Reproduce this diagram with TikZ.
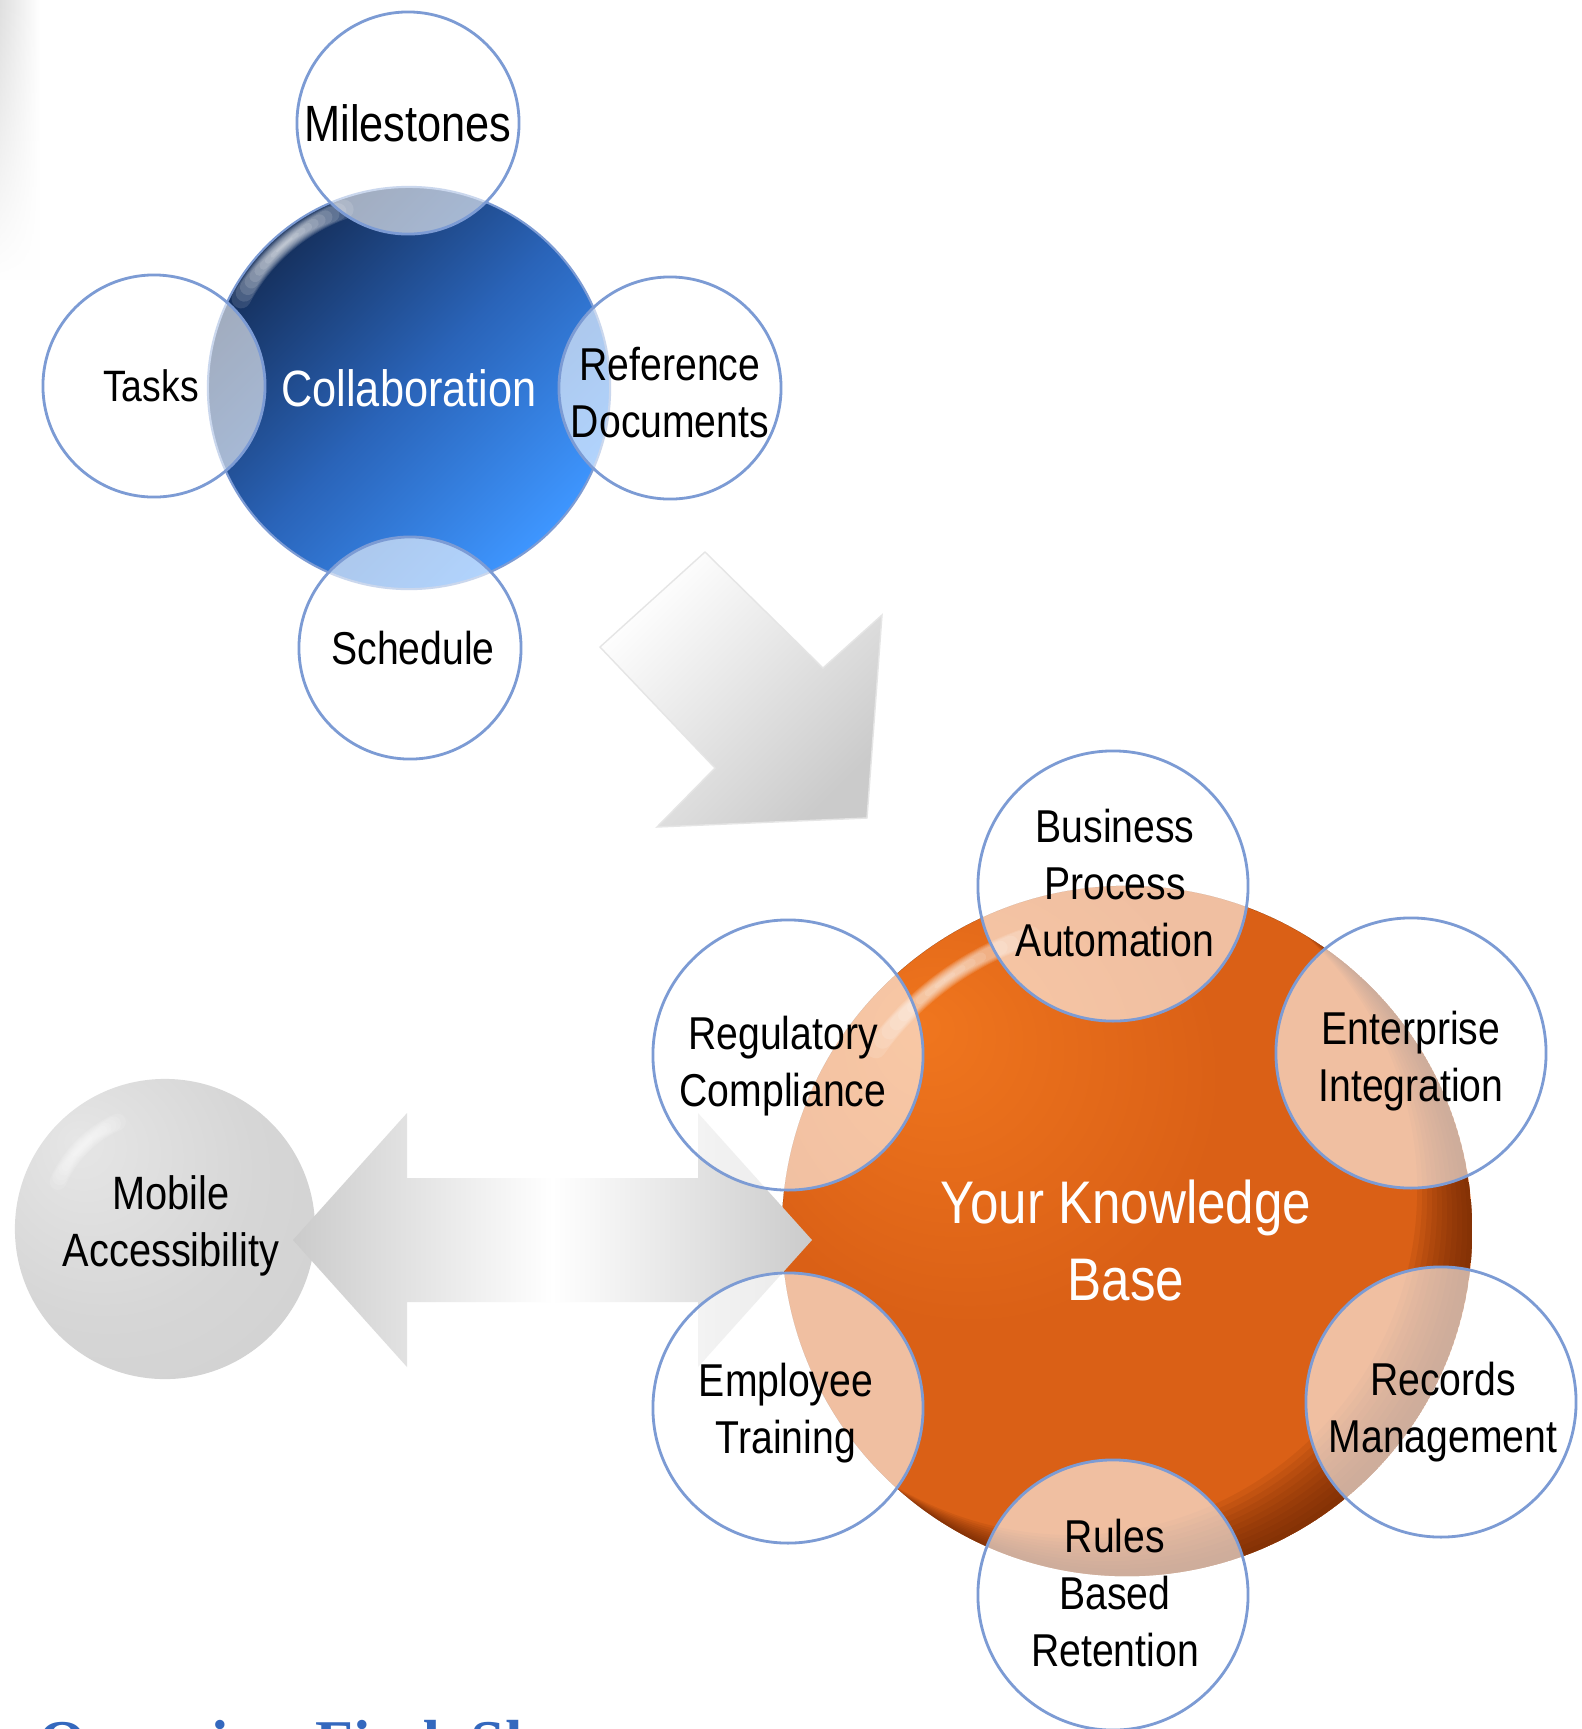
\documentclass[tikz,border=0pt]{standalone}
\usepackage{fontspec}
\setmainfont{Liberation Sans}[FakeStretch=0.85]
\newfontfamily\headfont{Liberation Serif}
\usetikzlibrary{fadings}

\definecolor{satline}{RGB}{124,155,212}
\definecolor{navyblue}{RGB}{20,45,88}
\definecolor{midblue}{RGB}{42,100,185}
\definecolor{brightblue}{RGB}{62,150,255}
\definecolor{orlight}{RGB}{240,118,30}
\definecolor{ormain}{RGB}{218,96,22}
\definecolor{orrim}{RGB}{105,36,3}
\definecolor{mobA}{RGB}{230,230,230}
\definecolor{mobB}{RGB}{214,214,214}
\definecolor{mobC}{RGB}{205,205,205}
\definecolor{arrowgray}{RGB}{203,203,203}
\definecolor{headblue}{RGB}{52,104,190}

\pgfdeclareradialshading{kbball}{\pgfpoint{-15bp}{15bp}}{color(0bp)=(orlight); color(18bp)=(ormain); color(70bp)=(ormain)}
\pgfdeclareradialshading{mobileball}{\pgfpoint{-15bp}{15bp}}{color(0bp)=(mobA); color(25bp)=(mobB); color(55bp)=(mobC); color(70bp)=(mobC)}

\newcommand\satfont{\fontsize{13.1}{16.2}\selectfont}
\newcommand\bigsatfont{\fontsize{14.5}{17}\selectfont}

\tikzset{
  sat/.style={circle, draw=satline, line width=0.8pt, fill=white, fill opacity=0.6,
    inner sep=0pt, minimum size=#1},
  sat/.default=2.22cm,
  txt/.style={align=center, inner sep=0pt, font=\satfont},
  gloss/.style={white, draw opacity=0.12, line cap=round}
}

\begin{document}
\begin{tikzpicture}[x=0.01cm, y=-0.01cm]
  \useasboundingbox (0,0) rectangle (1582,1729);
  \clip (0,0) rectangle (1582,1729);
  \fill[white] (0,0) rectangle (1582,1729);
  \shade[left color=gray!25, right color=white, path fading=south] (0,0) rectangle (40,280);

  % collaboration
  \node[circle, minimum size=4.02cm, top color=navyblue, bottom color=brightblue,
    middle color=midblue, shading angle=45, draw=satline, line width=0.6pt,
    text=white, font=\bigsatfont] (collab) at (409,388) {Collaboration};
  \foreach \i in {1,...,10}
    \draw[gloss, line width=(11-\i)*0.55pt] (collab.center) ++(108+\i*2:1.9cm)
      arc[start angle=108+\i*2, end angle=154-\i*2, radius=1.9cm];
  \node[sat] (milestones) at (408,123) {};
  \node[txt, font=\bigsatfont] (milestones-t) at (408,123) {Milestones};
  \node[sat] (tasks) at (154,386) {};
  \node[txt, font=\fontsize{12.5}{15}\selectfont] (tasks-t) at (151,386) {Tasks};
  \node[sat] (refdocs) at (670,388) {};
  \node[txt] (refdocs-t) at (670,393) {Reference\\Documents};
  \node[sat] (schedule) at (410,648) {};
  \node[txt] (schedule-t) at (413,648) {Schedule};

  % arrow down to the knowledge base
  \shade[top color=white, bottom color=arrowgray, shading angle=45, draw=gray!20, line width=0.4pt]
    (705,552) -- (823,668) -- (882,615) -- (867,818) -- (657,827) -- (715,768) -- (600,647) -- cycle;

  % knowledge base
  \node[circle, minimum size=6.9cm, inner sep=0pt, shade, shading=kbball] (kb) at (1127,1231) {};
  \begin{scope}
    \clip (kb.center) circle[radius=3.45cm];
    \foreach \d [evaluate=\d as \e using 0.75*\d] in {0.05,0.1,...,0.56}
      \fill[orrim, fill opacity=0.11, even odd rule] (kb.center) circle[radius=3.45cm]
        ([shift={(-\d cm,\e cm)}]kb.center) circle[radius=3.45cm];
  \end{scope}
  \node[txt, text=white, font=\fontsize{17.1}{21.9}\selectfont] (kb-t) at (1126,1240) {Your Knowledge\\Base};
  \foreach \i in {1,...,10}
    \draw[gloss, line width=(11-\i)*0.55pt] (kb.center) ++(106+\i*2:3.1cm)
      arc[start angle=106+\i*2, end angle=146-\i*2, radius=3.1cm];

  % mobile
  \node[circle, minimum size=3.0cm, shade, shading=mobileball] (mobile) at (165,1229) {};
  \node[txt, font=\fontsize{13.3}{16.3}\selectfont] (mobile-t) at (171,1226) {Mobile\\Accessibility};
  \foreach \i in {1,...,8}
    \draw[gloss, line width=(9-\i)*0.6pt] (mobile.center) ++(112+\i*2:1.17cm)
      arc[start angle=112+\i*2, end angle=158-\i*2, radius=1.17cm];

  \shade[left color=arrowgray, right color=arrowgray, middle color=white]
    (293,1240) -- (407,1113) -- (407,1178) -- (698,1178) -- (698,1113) -- (812,1240)
    -- (698,1367) -- (698,1302) -- (407,1302) -- (407,1367) -- cycle;

  \node[sat=2.7cm] (bpa) at (1113,886) {};
  \node[txt] (bpa-t) at (1115,883) {Business\\Process\\Automation};
  \node[sat=2.7cm] (enterprise) at (1411,1053) {};
  \node[txt] (enterprise-t) at (1411,1061) {Enterprise\\Integration};
  \node[sat=2.7cm] (records) at (1441,1402) {};
  \node[txt] (records-t) at (1443,1412) {Records\\Management};
  \node[sat=2.7cm] (rules) at (1113,1595) {};
  \node[txt] (rules-t) at (1115,1593) {Rules\\Based\\Retention};
  \node[sat=2.7cm] (training) at (788,1408) {};
  \node[txt] (training-t) at (786,1413) {Employee\\Training};
  \node[sat=2.7cm] (regulatory) at (788,1055) {};
  \node[txt] (regulatory-t) at (783,1066) {Regulatory\\Compliance};

  \node[anchor=base west, inner sep=0pt, text=headblue,
    font=\headfont\bfseries\fontsize{17.7}{20}\selectfont] (heading) at (38,1763) {Organize, Find, Share};
\end{tikzpicture}
\end{document}
